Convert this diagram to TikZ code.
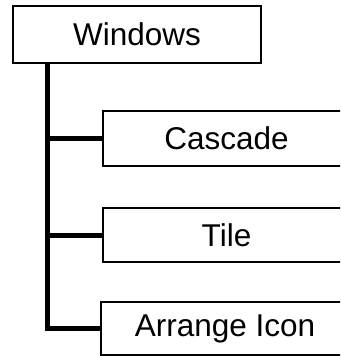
\documentclass[tikz,border=0pt]{standalone}
\usepackage{fontspec}
\setmainfont{Liberation Sans}
\usetikzlibrary{positioning}
\tikzset
{
  menunode/.style = {rectangle, draw=black, line width=2pt, anchor=north west, inner sep=0pt, align=center, minimum width=248pt, font=\fontsize{31.5}{36}\selectfont},
  link/.style     = {draw=black, line width=5pt}
}

\begin{document}
\begin{tikzpicture}[x=1pt,y=-1pt]
            \useasboundingbox (0,0) rectangle (340,356);
            \clip (0,0) rectangle (340,356);
            \coordinate (trunk) at (47,0);
            \node [menunode, minimum height=57pt] (win) at (12,5) {Windows};
            \node [menunode, minimum height=55pt, minimum width=247pt] (cas) at (102,110) {Cascade};
            \node [menunode, minimum height=54pt, minimum width=247pt] (tile) at (102,207) {Tile};
            \node [menunode, minimum height=53pt] (arr) at (100,301) {Arrange Icon};
            \draw [link] (trunk |- win.south) |- (arr.west);
            \draw [link] (trunk |- cas.west) -- (cas.west);
            \draw [link] (trunk |- tile.west) -- (tile.west);
          \end{tikzpicture}
\end{document}
